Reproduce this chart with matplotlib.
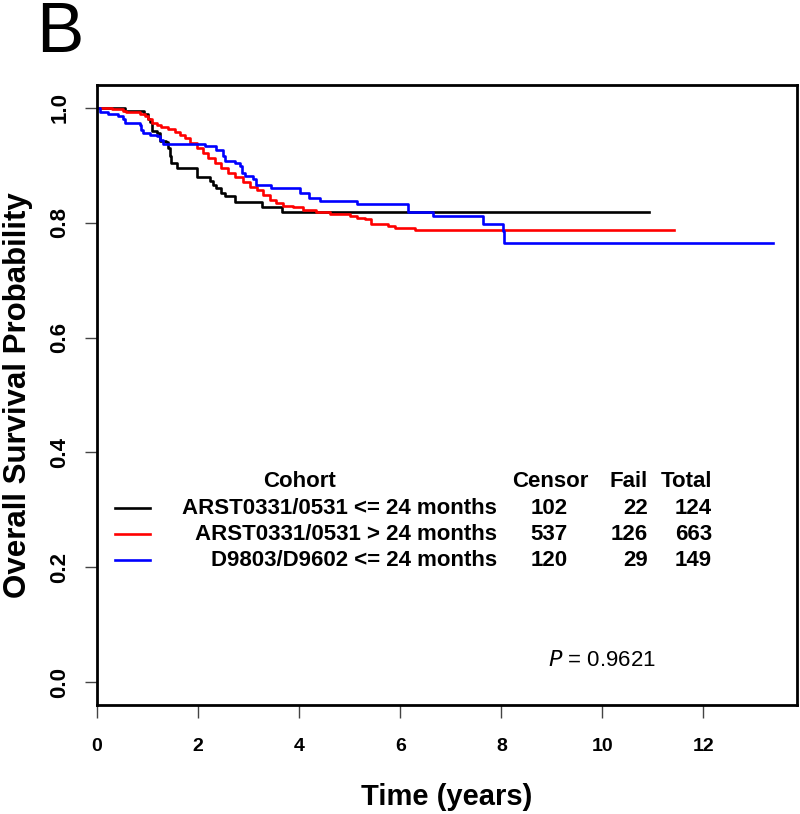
import matplotlib
matplotlib.use("Agg")
import matplotlib.pyplot as plt
from matplotlib.lines import Line2D

plt.rcParams['font.family'] = ['Liberation Sans', 'DejaVu Sans']

# Kaplan-Meier step data (time in years, survival after step)
black_t = [0, 0.55, 0.93, 1.00, 1.05, 1.08, 1.18, 1.24, 1.37, 1.41, 1.44, 1.47, 1.58,
           1.97, 2.23, 2.30, 2.36, 2.46, 2.53, 2.73, 3.26, 3.67, 10.93]
black_s = [1.0, 0.994, 0.990, 0.981, 0.975, 0.960, 0.957, 0.943, 0.940, 0.931, 0.917,
           0.904, 0.895, 0.879, 0.873, 0.866, 0.860, 0.852, 0.847, 0.836, 0.828, 0.819, 0.819]

red_t = [0, 0.30, 0.52, 0.58, 0.85, 0.94, 1.01, 1.08, 1.18, 1.27, 1.41, 1.54, 1.64, 1.74,
         1.84, 1.97, 2.10, 2.20, 2.33, 2.46, 2.59, 2.73, 2.89, 3.02, 3.16, 3.29, 3.42,
         3.55, 3.68, 3.88, 4.08, 4.34, 4.61, 5.00, 5.14, 5.30, 5.43, 5.76, 5.90, 6.29, 11.41]
red_s = [1.0, 0.998, 0.995, 0.993, 0.990, 0.986, 0.980, 0.974, 0.971, 0.967, 0.963, 0.959,
         0.953, 0.947, 0.939, 0.930, 0.921, 0.912, 0.904, 0.895, 0.886, 0.879, 0.871,
         0.863, 0.857, 0.848, 0.840, 0.834, 0.829, 0.827, 0.822, 0.818, 0.815, 0.812,
         0.809, 0.806, 0.798, 0.795, 0.791, 0.788, 0.788]

blue_t = [0, 0.05, 0.22, 0.42, 0.52, 0.55, 0.86, 0.88, 0.91, 1.04, 1.18, 1.24, 1.31, 2.13,
          2.36, 2.50, 2.53, 2.73, 2.83, 2.86, 2.92, 3.09, 3.14, 3.45, 4.01, 4.20, 4.41,
          5.14, 6.16, 6.64, 7.64, 8.04, 8.06, 13.37]
blue_s = [1.0, 0.993, 0.989, 0.986, 0.980, 0.974, 0.971, 0.962, 0.957, 0.953, 0.951, 0.945,
          0.938, 0.933, 0.927, 0.917, 0.908, 0.905, 0.899, 0.887, 0.881, 0.876, 0.865,
          0.861, 0.852, 0.843, 0.838, 0.832, 0.819, 0.812, 0.798, 0.785, 0.764, 0.764]

cohorts = ["ARST0331/0531 <= 24 months", "ARST0331/0531 > 24 months", "D9803/D9602 <= 24 months"]
colors = ["black", "red", "blue"]
censor = [102, 537, 120]
fail = [22, 126, 29]
total = [124, 663, 149]
p_value = "0.9621"

W, H = 800, 814
fig = plt.figure(figsize=(W / 100, H / 100), dpi=100)
ax = fig.add_axes([97 / W, 1 - 705 / H, 700 / W, 620 / H])

for t, s, c in zip([black_t, red_t, blue_t], [black_s, red_s, blue_s], colors):
    ax.step(t, s, where='post', color=c, lw=1.9)

ax.set_xlim(0, 13.85)
ax.set_ylim(-0.04, 1.04)
ax.set_xticks(range(0, 13, 2))
ax.set_yticks([0.0, 0.2, 0.4, 0.6, 0.8, 1.0])
ax.set_yticklabels(["0.0", "0.2", "0.4", "0.6", "0.8", "1.0"], rotation=90, va='center')
for sp in ax.spines.values():
    sp.set_linewidth(2)
ax.tick_params(axis='both', direction='out', length=9, width=1, color='#444444')
ax.tick_params(axis='x', pad=15, labelsize=14)
ax.tick_params(axis='y', pad=10, labelsize=16)
for lab in ax.get_xticklabels() + ax.get_yticklabels():
    lab.set_fontweight('bold')

ax.set_xlabel("Time (years)", fontsize=21, fontweight='bold', labelpad=20)
ax.set_ylabel("Overall Survival Probability", fontsize=22.5, fontweight='bold', labelpad=12)

# panel letter
fig.text(60 / W, 1 - 52 / H, "B", fontsize=51, va='baseline', ha='center')

# legend table
def fx(px):
    return px / W

def fy(py):
    return 1 - py / H

fs = 16
fig.text(fx(300), fy(482), "Cohort", fontsize=fs, fontweight='bold', ha='center', va='center')
fig.text(fx(550), fy(482), "Censor", fontsize=fs, fontweight='bold', ha='center', va='center')
fig.text(fx(648), fy(482), "Fail", fontsize=fs, fontweight='bold', ha='right', va='center')
fig.text(fx(712), fy(482), "Total", fontsize=fs, fontweight='bold', ha='right', va='center')
rows_y = [508, 534, 560]
for i, ry in enumerate(rows_y):
    fig.add_artist(Line2D([fx(115), fx(150)], [fy(ry), fy(ry)], color=colors[i], lw=1.9))
    fig.text(fx(497), fy(ry), cohorts[i], fontsize=fs, fontweight='bold', ha='right', va='center')
    fig.text(fx(549), fy(ry), str(censor[i]), fontsize=fs, fontweight='bold', ha='center', va='center')
    fig.text(fx(648), fy(ry), str(fail[i]), fontsize=fs, fontweight='bold', ha='right', va='center')
    fig.text(fx(712), fy(ry), str(total[i]), fontsize=fs, fontweight='bold', ha='right', va='center')

fig.text(fx(548), fy(660), r"$P$ = " + p_value, fontsize=16, ha='left', va='center')

fig.savefig("out.png", dpi=100)
